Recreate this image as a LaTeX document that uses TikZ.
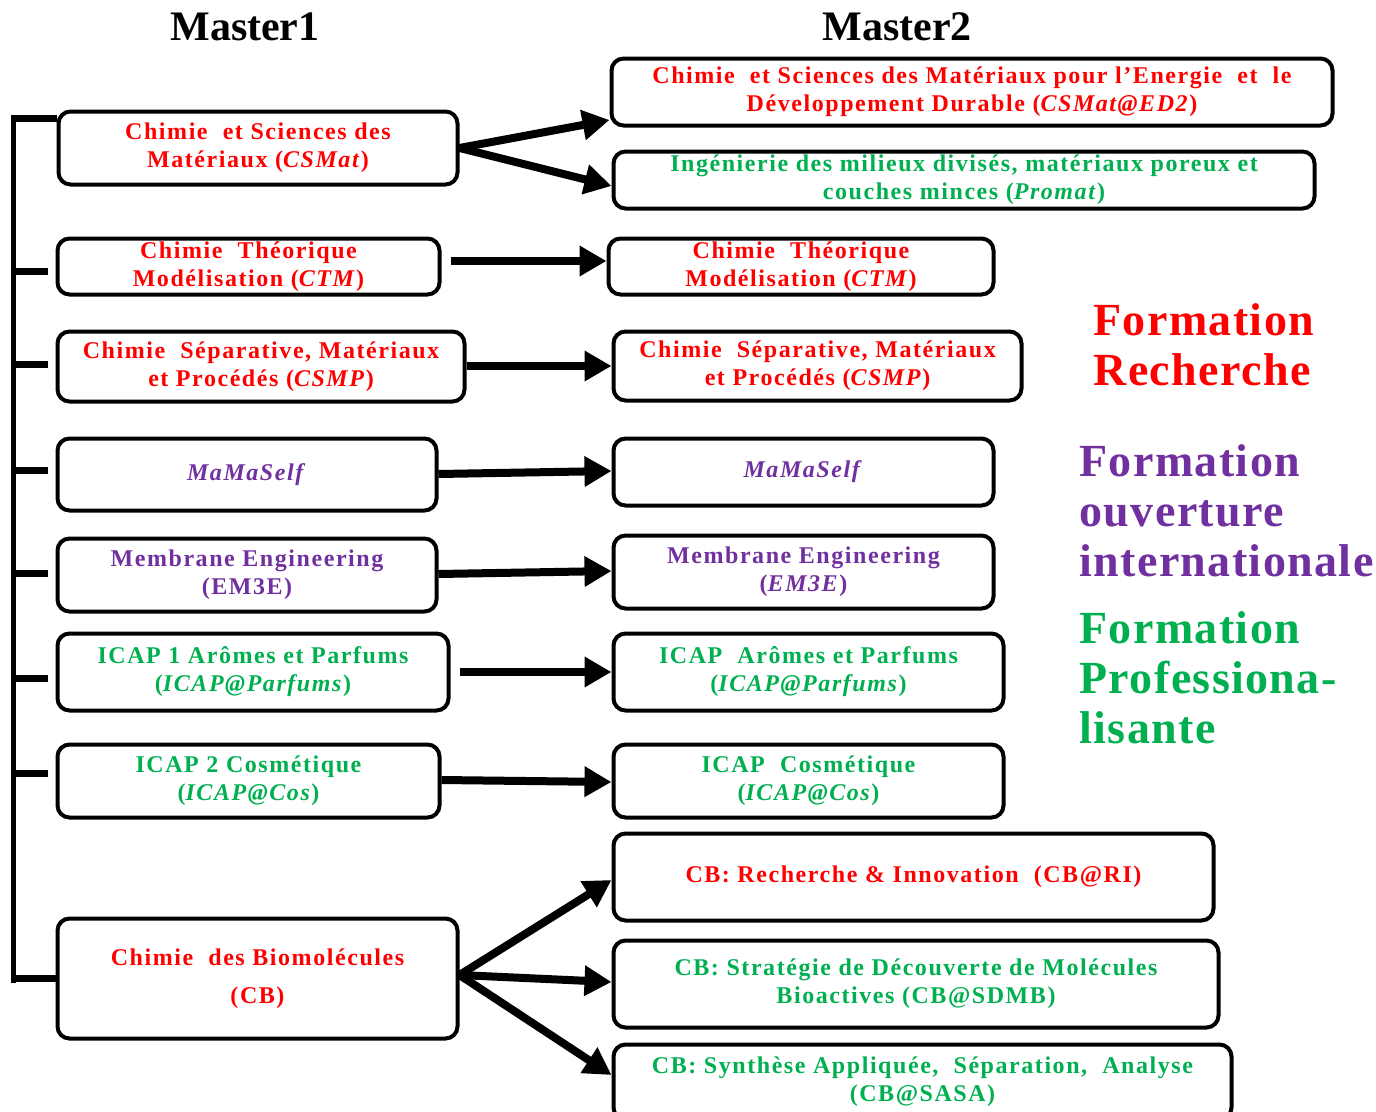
\documentclass[tikz,border=0pt]{standalone}
\usepackage{fontspec}
\setmainfont{Liberation Serif}
\newfontfamily\boxfont{Liberation Serif}[LetterSpace=6.5]
\newfontfamily\sidefont{Liberation Serif}[LetterSpace=3]
\usetikzlibrary{arrows.meta}
\definecolor{fred}{RGB}{255,0,0}
\definecolor{fgreen}{RGB}{0,176,80}
\definecolor{fpurple}{RGB}{112,48,160}
\tikzset{
  box/.style={draw=black, line width=4pt, rounded corners=12pt, align=center, inner sep=0pt,
    font=\boxfont\fontsize{24}{28}\selectfont\bfseries},
  conn/.style={line width=8pt, -{Triangle[length=27pt,width=29pt]}},
  tick/.style={line width=7pt},
  head/.style={font=\fontsize{42}{44}\selectfont\bfseries, text=black},
  side/.style={anchor=west, align=left, font=\sidefont\fontsize{46}{50}\selectfont\bfseries}
}
\begin{document}
\begin{tikzpicture}[x=1pt,y=-1pt]
\useasboundingbox (0,0) rectangle (1376,1111);
% headings
\node[head] (m1) at (245,27) {Master1};
\node[head] (m2) at (897,27) {Master2};
% Master 1 boxes
\node[box, text=fred, minimum width=399, minimum height=73] (l1) at (258,148) {Chimie~ et Sciences des\\ Matériaux (\textit{CSMat})};
\node[box, text=fred, minimum width=382, minimum height=56] (l2) at (248.5,266.5) {Chimie~ Théorique\\ Modélisation (\textit{CTM})};
\node[box, text=fred, minimum width=407, minimum height=70] (l3) at (261,366.5) {Chimie~ Séparative, Matériaux\\ et Procédés (\textit{CSMP})};
\node[box, text=fpurple, minimum width=379, minimum height=72] (l4) at (247,474.5) {\textit{MaMaSelf}};
\node[box, text=fpurple, minimum width=379, minimum height=73] (l5) at (247,575) {Membrane Engineering\\ (EM3E)};
\node[box, text=fgreen, minimum width=391, minimum height=77] (l6) at (253,672) {ICAP 1 Arômes et Parfums\\ (\textit{ICAP@Parfums})};
\node[box, text=fgreen, minimum width=382, minimum height=73] (l7) at (248.5,781) {ICAP 2 Cosmétique\\ (\textit{ICAP@Cos})};
\node[box, text=fred, minimum width=400, minimum height=120] (l8) at (257.5,978.5) {Chimie~ des Biomolécules\\[10pt] (CB)};
% Master 2 boxes
\node[box, text=fred, minimum width=721, minimum height=67] (r1) at (972,92) {Chimie~ et Sciences des Matériaux pour l’Energie~ et~ le\\ Développement Durable (\textit{CSMat@ED2})};
\node[box, text=fgreen, minimum width=701, minimum height=57] (r2) at (964,180) {Ingénierie des milieux divisés, matériaux poreux et\\ couches minces (\textit{Promat})};
\node[box, text=fred, minimum width=385, minimum height=56] (r3) at (801,266.5) {Chimie~ Théorique\\ Modélisation (\textit{CTM})};
\node[box, text=fred, minimum width=408, minimum height=69] (r4) at (817.5,366) {Chimie~ Séparative, Matériaux\\ et Procédés (\textit{CSMP})};
\node[box, text=fpurple, minimum width=380, minimum height=67] (r5) at (803.5,472) {\textit{MaMaSelf}};
\node[box, text=fpurple, minimum width=380, minimum height=73] (r6) at (803.5,572) {Membrane Engineering\\ (\textit{EM3E})};
\node[box, text=fgreen, minimum width=390, minimum height=77] (r7) at (808.5,672) {ICAP~ Arômes et Parfums\\ (\textit{ICAP@Parfums})};
\node[box, text=fgreen, minimum width=390, minimum height=73] (r8) at (808.5,781) {ICAP~ Cosmétique\\ (\textit{ICAP@Cos})};
\node[box, text=fred, minimum width=600, minimum height=87] (r9) at (913.5,877) {CB: Recherche \& Innovation~ (CB@RI)};
\node[box, text=fgreen, minimum width=605, minimum height=87] (r10) at (916,984) {CB: Stratégie de Découverte de Molécules\\ Bioactives (CB@SDMB)};
\node[box, text=fgreen, minimum width=618, minimum height=75] (r11) at (922.5,1082) {CB: Synthèse Appliquée,~ Séparation,~ Analyse\\ (CB@SASA)};
% side labels
\node[side, text=fred] (fr) at (1090,345) {Formation\\ Recherche};
\node[side, text=fpurple] (fo) at (1076,511) {Formation\\ ouverture\\ internationale};
\node[side, text=fgreen] (fp) at (1076,678) {Formation\\ Professiona-\\ lisante};
% bracket
\coordinate (btop) at (13,115);
\coordinate (bbot) at (13,983);
\draw[line width=5pt] (btop) -- (bbot);
\draw[tick] (11,118) -- (l1.west |- 0,118);
\draw[tick] (11,271) -- ([xshift=-8pt]l2.west |- 0,271);
\draw[tick] (11,364) -- ([xshift=-8pt]l3.west |- 0,364);
\draw[tick] (11,470) -- ([xshift=-8pt]l4.west |- 0,470);
\draw[tick] (11,573) -- ([xshift=-8pt]l5.west |- 0,573);
\draw[tick] (11,678) -- ([xshift=-8pt]l6.west |- 0,678);
\draw[tick] (11,773) -- ([xshift=-8pt]l7.west |- 0,773);
\draw[tick] (11,978) -- (l8.west |- 0,978);
% arrows
\draw[conn] (l1.east) -- (r1.west |- 0,120);
\draw[conn] (l1.east) -- (r2.west |- 0,186);
\draw[conn] ([xshift=9pt]l2.east |- 0,261) -- (r3.west |- 0,261);
\draw[conn] (l3.east |- 0,366) -- (r4.west |- 0,366);
\draw[conn] (l4.east |- 0,474) -- (r5.west |- 0,471);
\draw[conn] (l5.east |- 0,574) -- (r6.west |- 0,571);
\draw[conn] ([xshift=9pt]l6.east |- 0,672) -- (r7.west |- 0,672);
\draw[conn] (l7.east |- 0,780) -- (r8.west |- 0,782);
\draw[conn] (l8.east |- 0,975) -- (r9.west |- 0,880);
\draw[conn] (l8.east |- 0,975) -- (r10.west |- 0,982);
\draw[conn] (l8.east |- 0,975) -- (r11.west |- 0,1075);
\end{tikzpicture}
\end{document}
